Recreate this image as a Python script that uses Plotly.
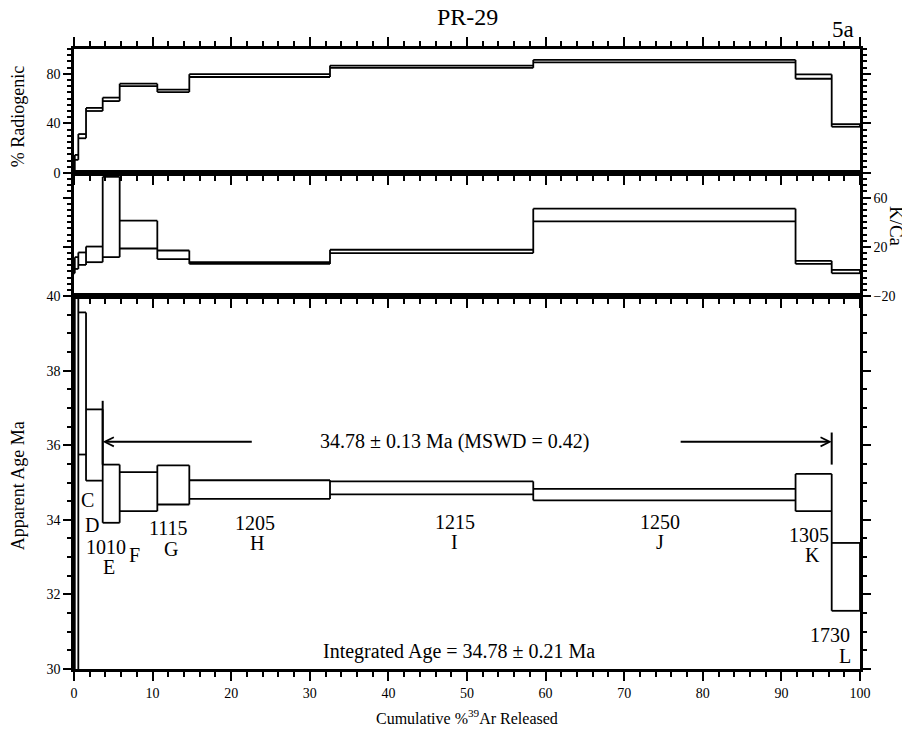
import plotly.graph_objects as go

# ---------------- data ----------------
steps = ["A", "B", "C", "D", "E", "F", "G", "H", "I", "J", "K", "L"]
temps = ["", "", "", "", "1010", "", "1115", "1205", "1215", "1250", "1305", "1730"]
cum_edges = [0, 0.1, 0.55, 1.53, 3.65, 5.81, 10.6, 14.67, 32.57, 58.43, 91.8, 96.4, 100]

age_lo = [10.0, 20.0, 35.75, 35.05, 33.92, 34.23, 34.41, 34.56, 34.68, 34.52, 34.23, 31.56]
age_hi = [60.0, 50.0, 39.56, 36.96, 35.48, 35.28, 35.46, 35.06, 35.03, 34.83, 35.23, 33.38]

rad_lo = [2.0, 10.6, 28.0, 50.0, 58.0, 70.0, 65.3, 77.4, 84.8, 89.2, 76.0, 37.3]
rad_hi = [6.0, 14.6, 31.4, 52.5, 60.8, 72.0, 67.2, 79.7, 86.6, 91.2, 79.5, 39.4]

kca_lo = [-1.5, 2.0, 5.3, 7.5, 11.6, 18.6, 10.0, 6.1, 14.9, 40.7, 6.1, -1.5]
kca_hi = [4.0, 11.6, 15.4, 20.2, 76.9, 41.2, 17.0, 7.5, 17.6, 51.0, 8.6, 1.2]

plateau_age = "34.78 ± 0.13 Ma (MSWD = 0.42)"
integrated_age = "Integrated Age = 34.78 ± 0.21 Ma"
plateau_start, plateau_end = 3.65, 96.4

# label placement (layout, in data coordinates of the age panel)
letter_pos = {"C": (1.78, 34.54), "D": (2.29, 33.87), "E": (4.45, 32.74),
              "F": (7.76, 33.06), "G": (12.34, 33.23), "H": (23.28, 33.39),
              "I": (48.47, 33.41), "J": (74.55, 33.41), "K": (94.0, 33.06),
              "L": (98.1, 30.35)}
temp_pos = {"E": (4.07, 33.28), "G": (11.96, 33.79), "H": (23.03, 33.92),
            "I": (48.47, 33.95), "J": (74.55, 33.95), "K": (93.5, 33.6),
            "L": (96.2, 30.91)}

FONT = "Liberation Serif, Times New Roman, serif"


def spectrum_path(edges, lo, hi):
    xs, ys = [], []
    n = len(lo)
    for i in range(n):
        xs += [edges[i], edges[i + 1], None, edges[i], edges[i + 1], None]
        ys += [hi[i], hi[i], None, lo[i], lo[i], None]
    for j in range(n + 1):
        vals = []
        if j > 0:
            vals += [lo[j - 1], hi[j - 1]]
        if j < n:
            vals += [lo[j], hi[j]]
        xs += [edges[j], edges[j], None]
        ys += [min(vals), max(vals), None]
    return xs, ys


fig = go.Figure()
line = dict(color="black", width=1.8)

x, y = spectrum_path(cum_edges, age_lo, age_hi)
fig.add_trace(go.Scatter(x=x, y=y, mode="lines", line=line, xaxis="x", yaxis="y",
                         hoverinfo="skip", showlegend=False))
x, y = spectrum_path(cum_edges, kca_lo, kca_hi)
fig.add_trace(go.Scatter(x=x, y=y, mode="lines", line=line, xaxis="x2", yaxis="y2",
                         hoverinfo="skip", showlegend=False))
x, y = spectrum_path(cum_edges, rad_lo, rad_hi)
fig.add_trace(go.Scatter(x=x, y=y, mode="lines", line=line, xaxis="x3", yaxis="y3",
                         hoverinfo="skip", showlegend=False))

# plateau end bars
fig.add_trace(go.Scatter(x=[plateau_start, plateau_start, None, plateau_end, plateau_end],
                         y=[35.48, 37.19, None, 35.48, 36.34], mode="lines",
                         line=dict(color="black", width=2), xaxis="x", yaxis="y",
                         hoverinfo="skip", showlegend=False))

ann = []
# plateau arrows
arrow_y = 36.09
ann.append(dict(x=plateau_start, y=arrow_y, ax=23.0, ay=arrow_y, xref="x", yref="y",
                axref="x", ayref="y", text=" ", showarrow=True, arrowhead=5,
                arrowsize=0.9, arrowwidth=2, arrowcolor="black", standoff=0))
ann.append(dict(x=plateau_end, y=arrow_y, ax=76.8, ay=arrow_y, xref="x", yref="y",
                axref="x", ayref="y", text=" ", showarrow=True, arrowhead=5,
                arrowsize=0.9, arrowwidth=2, arrowcolor="black", standoff=0))
ann.append(dict(x=31.04, y=arrow_y, xref="x", yref="y", text=plateau_age, showarrow=False,
                xanchor="left", yanchor="middle", font=dict(family=FONT, size=20, color="black")))
ann.append(dict(x=31.4, y=30.48, xref="x", yref="y", text=integrated_age, showarrow=False,
                xanchor="left", yanchor="middle", font=dict(family=FONT, size=20, color="black")))

for s, t in zip(steps, temps):
    if s in letter_pos:
        px, py = letter_pos[s]
        ann.append(dict(x=px, y=py, xref="x", yref="y", text=s, showarrow=False,
                        xanchor="center", yanchor="middle",
                        font=dict(family=FONT, size=20, color="black")))
    if t and s in temp_pos:
        px, py = temp_pos[s]
        ann.append(dict(x=px, y=py, xref="x", yref="y", text=t, showarrow=False,
                        xanchor="center", yanchor="middle",
                        font=dict(family=FONT, size=20, color="black")))

# titles
ann.append(dict(x=0.5, y=1.0516, xref="paper", yref="paper", text="PR-29", showarrow=False,
                xanchor="center", yanchor="middle", font=dict(family=FONT, size=24, color="black")))
ann.append(dict(x=0.978, y=1.031, xref="paper", yref="paper", text="5a", showarrow=False,
                xanchor="center", yanchor="middle", font=dict(family=FONT, size=23, color="black")))
ann.append(dict(x=-0.0712, y=0.890, xref="paper", yref="paper", text="% Radiogenic",
                showarrow=False, textangle=-90, xanchor="center", yanchor="middle",
                font=dict(family=FONT, size=18, color="black")))
ann.append(dict(x=-0.0712, y=0.295, xref="paper", yref="paper", text="Apparent Age Ma",
                showarrow=False, textangle=-90, xanchor="center", yanchor="middle",
                font=dict(family=FONT, size=18, color="black")))
ann.append(dict(x=1.0458, y=0.713, xref="paper", yref="paper", text="K/Ca",
                showarrow=False, textangle=90, xanchor="center", yanchor="middle",
                font=dict(family=FONT, size=19, color="black")))
ann.append(dict(x=0.5, y=-0.0774, xref="paper", yref="paper",
                text="Cumulative %<sup>39</sup>Ar Released",
                showarrow=False, xanchor="center", yanchor="middle",
                font=dict(family=FONT, size=16, color="black")))

xbase = dict(range=[0, 100], dtick=10, tick0=0, ticks="outside", ticklen=9, tickwidth=2,
             tickcolor="black", minor=dict(dtick=2, ticklen=5, tickwidth=2, ticks="outside",
                                          tickcolor="black"),
             showline=True, linewidth=2.5, linecolor="black", showgrid=False, zeroline=False,
             tickfont=dict(family=FONT, size=14, color="black"), fixedrange=True)
ybase = dict(ticks="outside", ticklen=8, tickwidth=2, tickcolor="black",
             showline=True, linewidth=2.5, linecolor="black", showgrid=False, zeroline=False,
             tickfont=dict(family=FONT, size=14, color="black"), mirror="ticks", fixedrange=True)

d1 = 373 / 620
d2 = 496 / 620

fig.update_layout(
    width=902, height=724,
    margin=dict(l=66, r=50, t=41, b=63),
    paper_bgcolor="white", plot_bgcolor="white",
    showlegend=False,
    xaxis=dict(xbase, anchor="y", mirror=True),
    xaxis2=dict(xbase, anchor="y2", mirror=True, showticklabels=False),
    xaxis3=dict(xbase, anchor="y3", mirror="ticks", showticklabels=False),
    yaxis=dict(ybase, domain=[0, d1], range=[30, 40], dtick=2, tick0=30, anchor="x",
               minor=dict(dtick=0.5, ticklen=4, tickwidth=2, ticks="outside", tickcolor="black")),
    yaxis2=dict(ybase, domain=[d1, d2], range=[-20, 80], dtick=40, tick0=-20, side="right",
                anchor="x2",
                minor=dict(dtick=5, ticklen=4, tickwidth=2, ticks="outside", tickcolor="black")),
    yaxis3=dict(ybase, domain=[d2, 1], range=[0, 100], dtick=40, tick0=0, anchor="x3",
                minor=dict(dtick=5, ticklen=4, tickwidth=2, ticks="outside", tickcolor="black")),
    annotations=ann,
)

fig.write_html("out.html")
